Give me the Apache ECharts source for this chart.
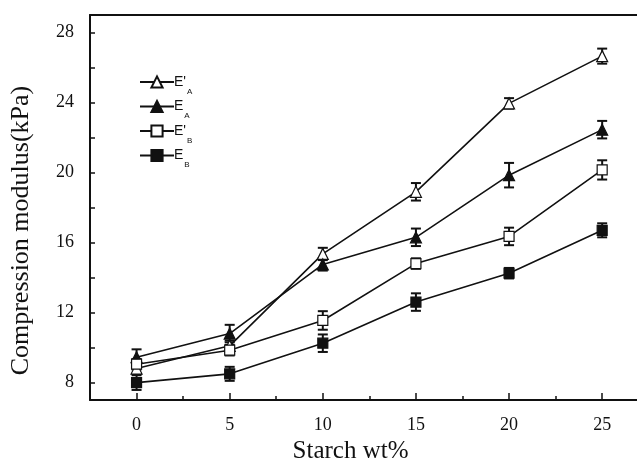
<!DOCTYPE html>
<html>
<head>
<meta charset="utf-8">
<script src="https://cdn.jsdelivr.net/npm/echarts@6/dist/echarts.min.js"></script>
<style>html,body{margin:0;padding:0;background:#fff}#c{width:637px;height:469px}</style>
</head>
<body>
<div id="c"></div>
<script>
// ---- data ----
const starchWt = [0, 5, 10, 15, 20, 25];
const seriesNames = ["E'A", "EA", "E'B", "EB"];
const ePrimeA = [8.8, 10.1, 15.35, 18.9, 23.95, 26.65];
const eA = [9.45, 10.8, 14.75, 16.3, 19.85, 22.45];
const ePrimeB = [9.05, 9.85, 11.55, 14.8, 16.35, 20.15];
const eB = [8.0, 8.5, 10.25, 12.6, 14.25, 16.7];
const ePrimeAErr = [0.3, 0.3, 0.35, 0.5, 0.3, 0.43];
const eAErr = [0.45, 0.5, 0.35, 0.5, 0.7, 0.5];
const ePrimeBErr = [0.3, 0.3, 0.53, 0.3, 0.5, 0.55];
const eBErr = [0.42, 0.4, 0.5, 0.5, 0.3, 0.4];
const xTickLabels = [0, 5, 10, 15, 20, 25];
const xMinorTicks = [2.5, 7.5, 12.5, 17.5, 22.5];
const yTickLabels = [8, 12, 16, 20, 24, 28];
const yTicks = [8, 10, 12, 14, 16, 18, 20, 22, 24, 26, 28];

const values = [ePrimeA, eA, ePrimeB, eB];
const errs = [ePrimeAErr, eAErr, ePrimeBErr, eBErr];
const symbols = ['triangle', 'triangle', 'rect', 'rect'];
const fills = ['#fff', '#111', '#fff', '#111'];
const sizes = [11, 11, 10, 10];

const series = [];
values.forEach((vals, i) => {
  series.push({
    type: 'custom',
    name: seriesNames[i] + '_err',
    z: 1,
    silent: true,
    data: starchWt.map((x, k) => [x, vals[k] - errs[i][k], vals[k] + errs[i][k]]),
    renderItem: function (params, api) {
      const lo = api.coord([api.value(0), api.value(1)]);
      const hi = api.coord([api.value(0), api.value(2)]);
      const w = 5;
      const st = { stroke: '#111', lineWidth: 2 };
      return {
        type: 'group',
        children: [
          { type: 'line', shape: { x1: lo[0], y1: lo[1], x2: hi[0], y2: hi[1] }, style: st },
          { type: 'line', shape: { x1: lo[0] - w, y1: lo[1], x2: lo[0] + w, y2: lo[1] }, style: st },
          { type: 'line', shape: { x1: hi[0] - w, y1: hi[1], x2: hi[0] + w, y2: hi[1] }, style: st }
        ]
      };
    }
  });
});
values.forEach((vals, i) => {
  series.push({
    type: 'line',
    name: seriesNames[i],
    z: 3,
    data: starchWt.map((x, k) => [x, vals[k]]),
    symbol: symbols[i],
    symbolSize: sizes[i],
    showAllSymbol: true,
    lineStyle: { color: '#111', width: 1.6 },
    itemStyle: { color: fills[i], borderColor: '#111', borderWidth: 1.2 }
  });
});

const chart = echarts.init(document.getElementById('c'));
chart.setOption({
  animation: false,
  backgroundColor: '#fff',
  grid: { left: 87, top: 15, right: 0, bottom: 56, show: false },
  legend: {
    data: seriesNames,
    orient: 'vertical',
    left: 134,
    top: 70,
    itemWidth: 34,
    itemHeight: 14,
    itemGap: 4,
    formatter: function (name) {
      const prime = name.indexOf("'") >= 0;
      const sub = name.charAt(name.length - 1);
      return '{e|E' + (prime ? "'" : '') + '}{s|' + sub + '}';
    },
    textStyle: {
      padding: [0, 0, 0, -5],
      rich: {
        e: { fontFamily: 'Liberation Sans', fontSize: 14, color: '#111', lineHeight: 19, verticalAlign: 'middle' },
        s: { fontFamily: 'Liberation Sans', fontSize: 8, color: '#111', lineHeight: 19, verticalAlign: 'bottom', padding: [0, 0, -4, 1] }
      }
    }
  },
  xAxis: [{
    type: 'value',
    min: -2.5, max: 26.87, interval: 2.5,
    name: 'Starch wt%',
    nameLocation: 'middle',
    nameGap: 22,
    nameTextStyle: { fontFamily: 'Liberation Serif', fontSize: 25, color: '#111', padding: [0, 26, 0, 0] },
    axisLine: { show: true, onZero: false, lineStyle: { color: '#111', width: 2 } },
    axisTick: { show: true, inside: true, length: 7, lineStyle: { color: '#111', width: 1.5 }, customValues: xTickLabels },
    axisLabel: { fontFamily: 'Liberation Serif', fontSize: 18, color: '#111', margin: 16, customValues: xTickLabels },
    splitLine: { show: false }
  }, {
    type: 'value',
    min: -2.5, max: 26.87, interval: 2.5,
    position: 'bottom',
    axisLine: { show: false, onZero: false },
    axisTick: { show: true, inside: true, length: 4, lineStyle: { color: '#111', width: 1.5 }, customValues: xMinorTicks },
    axisLabel: { show: false },
    splitLine: { show: false }
  }, {
    type: 'value',
    min: -2.5, max: 26.87, interval: 2.5,
    position: 'top',
    axisLine: { show: true, onZero: false, lineStyle: { color: '#111', width: 2 } },
    axisTick: { show: false },
    axisLabel: { show: false },
    splitLine: { show: false }
  }],
  yAxis: {
    type: 'value',
    min: 7, max: 29, interval: 1,
    name: 'Compression modulus(kPa)',
    nameLocation: 'middle',
    nameGap: 56,
    nameTextStyle: { fontFamily: 'Liberation Serif', fontSize: 26, color: '#111', padding: [0, 46, 0, 0] },
    axisLine: { show: true, onZero: false, lineStyle: { color: '#111', width: 2 } },
    axisTick: { show: true, inside: true, length: 5, lineStyle: { color: '#111', width: 1.5 }, customValues: yTicks },
    axisLabel: { fontFamily: 'Liberation Serif', fontSize: 18, color: '#111', margin: 16, customValues: yTickLabels },
    splitLine: { show: false }
  },
  series: series
});
</script>
</body>
</html>
